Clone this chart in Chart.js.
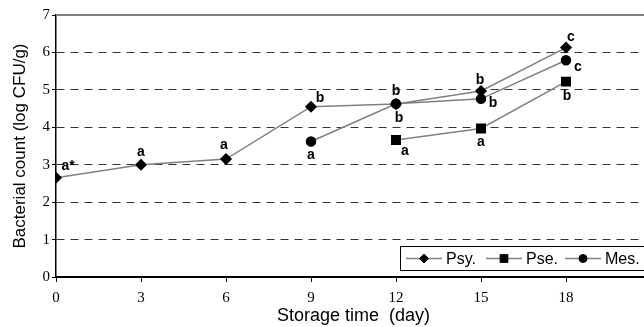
<!DOCTYPE html>
<html>
<head>
<meta charset="utf-8">
<script src="https://cdn.jsdelivr.net/npm/chart.js@4.4.0/dist/chart.umd.min.js"></script>
<style>
  html, body { margin: 0; padding: 0; background: #fff; overflow: hidden; }
  #wrap { width: 664px; height: 327px; }
</style>
</head>
<body>
<div id="wrap"><canvas id="myChart"></canvas></div>
<script>
// storage days
var days = [0, 3, 6, 9, 12, 15, 18];

// log CFU/g
var psy = [2.65, 3.0, 3.15, 4.55, 4.62, 4.97, 6.13];
var pse = [null, null, null, null, 3.66, 3.97, 5.22];
var mes = [null, null, null, 3.62, 4.63, 4.76, 5.79];

// significance letters
var psyLetters = ['a*', 'a', 'a', 'b', 'b', 'b', 'c'];
var pseLetters = ['', '', '', '', 'a', 'a', 'b'];
var mesLetters = ['', '', '', 'a', 'b', 'b', 'c'];

var yTicks = [0, 1, 2, 3, 4, 5, 6, 7];

// where each letter sits relative to its marker (px)
var psyOff = [[12, -12], [0, -13], [-2, -14], [9, -9], [0, -13], [-1, -11], [5, -10]];
var pseOff = [null, null, null, null, [9, 11], [0, 14], [1, 15]];
var mesOff = [null, null, null, [0, 14], [3, 14], [12, 4], [12, 7]];

function toXY(vals) {
    return days.map(function (d, i) { return { x: d, y: vals[i] }; });
}

var letterPlugin = {
    id: 'letters',
    afterDatasetsDraw: function (chart) {
        var c = chart.ctx;
        var xs = chart.scales.x, ys = chart.scales.y;
        var sets = [[psy, psyLetters, psyOff], [pse, pseLetters, pseOff], [mes, mesLetters, mesOff]];
        c.save();
        c.font = 'bold 14px "Liberation Sans", Arial, sans-serif';
        c.fillStyle = '#000';
        c.textAlign = 'center';
        c.textBaseline = 'middle';
        sets.forEach(function (s) {
            s[0].forEach(function (v, i) {
                if (v === null || !s[1][i]) return;
                var px = xs.getPixelForValue(days[i]);
                var py = ys.getPixelForValue(v);
                c.fillText(s[1][i], px + s[2][i][0], py + s[2][i][1]);
            });
        });
        c.restore();
    }
};

var framePlugin = {
    id: 'frame',
    beforeDatasetsDraw: function (chart) {
        var c = chart.ctx, a = chart.chartArea;
        c.save();
        c.strokeStyle = '#808080';
        c.lineWidth = 2;
        c.beginPath();
        c.moveTo(a.left, a.top);
        c.lineTo(a.right, a.top);
        c.stroke();
        c.restore();
    },
    afterDraw: function (chart) {
        // legend box inside the plot, line + marker samples
        var c = chart.ctx, a = chart.chartArea;
        var bx = a.left + 344, by = a.bottom - 31, bw = 260, bh = 24;
        c.save();
        c.fillStyle = '#fff';
        c.fillRect(bx, by, bw, bh);
        c.strokeStyle = '#000';
        c.lineWidth = 1;
        c.strokeRect(bx + 0.5, by + 0.5, bw, bh);
        var cy = by + bh / 2 + 0.5;
        var starts = [bx + 6, bx + 86, bx + 165];
        chart.data.datasets.forEach(function (ds, i) {
            var x0 = starts[i];
            c.strokeStyle = ds.borderColor;
            c.lineWidth = 1.5;
            c.beginPath();
            c.moveTo(x0, cy);
            c.lineTo(x0 + 36, cy);
            c.stroke();
            c.fillStyle = '#000';
            c.strokeStyle = '#000';
            c.lineWidth = 1;
            Chart.helpers.drawPoint(c, {
                pointStyle: ds.pointStyle,
                radius: ds.pointRadius - 0.5,
                borderWidth: 1
            }, x0 + 18, cy);
            c.font = '16px "Liberation Sans", Arial, sans-serif';
            c.textAlign = 'left';
            c.textBaseline = 'middle';
            c.fillStyle = '#000';
            c.fillText(ds.label, x0 + 40, cy + 1);
        });
        c.restore();
    }
};

var ctx = document.getElementById('myChart').getContext('2d');
var chart = new Chart(ctx, {
    type: 'line',
    data: {
        datasets: [{
            label: 'Psy.',
            data: toXY(psy),
            borderColor: '#808080',
            backgroundColor: '#000',
            pointBackgroundColor: '#000',
            pointBorderColor: '#000',
            borderWidth: 1.5,
            pointStyle: 'rectRot',
            pointRadius: 5
        }, {
            label: 'Pse.',
            data: toXY(pse),
            borderColor: '#808080',
            backgroundColor: '#000',
            pointBackgroundColor: '#000',
            pointBorderColor: '#000',
            borderWidth: 1.5,
            pointStyle: 'rect',
            pointRadius: 6
        }, {
            label: 'Mes.',
            data: toXY(mes),
            borderColor: '#808080',
            backgroundColor: '#000',
            pointBackgroundColor: '#000',
            pointBorderColor: '#000',
            borderWidth: 1.5,
            pointStyle: 'circle',
            pointRadius: 4.5
        }]
    },
    options: {
        responsive: true,
        maintainAspectRatio: false,
        animation: false,
        spanGaps: false,
        layout: {
            padding: { left: 0, top: 15, right: 13, bottom: 0 }
        },
        elements: {
            line: { tension: 0 }
        },
        plugins: {
            legend: { display: false },
            tooltip: { enabled: false }
        },
        scales: {
            x: {
                type: 'linear',
                min: 0,
                max: 21,
                afterFit: function (s) { s.height = 50; },
                afterBuildTicks: function (s) {
                    s.ticks = days.map(function (d) { return { value: d }; });
                },
                border: { color: '#000', width: 2 },
                grid: { drawOnChartArea: false, drawTicks: true, tickLength: 5, tickColor: '#000' },
                ticks: {
                    color: '#000',
                    padding: 7,
                    maxRotation: 0,
                    font: { family: '"Liberation Serif", "Times New Roman", serif', size: 15 }
                },
                title: {
                    display: true,
                    text: 'Storage time  (day)',
                    color: '#000',
                    padding: { top: 0, bottom: 0 },
                    font: { family: '"Liberation Sans", Arial, sans-serif', size: 18 }
                }
            },
            y: {
                min: 0,
                max: 7,
                afterFit: function (s) { s.width = 56; },
                afterBuildTicks: function (s) {
                    s.ticks = yTicks.map(function (v) { return { value: v }; });
                },
                border: { color: '#000', width: 1.5, dash: [8, 6] },
                grid: {
                    color: function (c) {
                        return (c.tick && (c.tick.value === 0 || c.tick.value === 7)) ? 'rgba(0,0,0,0)' : '#333';
                    },
                    lineWidth: 1,
                    drawTicks: true,
                    tickLength: 4,
                    tickColor: '#000',
                    tickBorderDash: []
                },
                ticks: {
                    color: '#000',
                    padding: 2,
                    font: { family: '"Liberation Serif", "Times New Roman", serif', size: 15 }
                },
                title: {
                    display: true,
                    text: 'Bacterial count (log CFU/g)',
                    color: '#000',
                    padding: { top: 10, bottom: 4 },
                    font: { family: '"Liberation Sans", Arial, sans-serif', size: 17 }
                }
            }
        }
    },
    plugins: [framePlugin, letterPlugin]
});
</script>
</body>
</html>
